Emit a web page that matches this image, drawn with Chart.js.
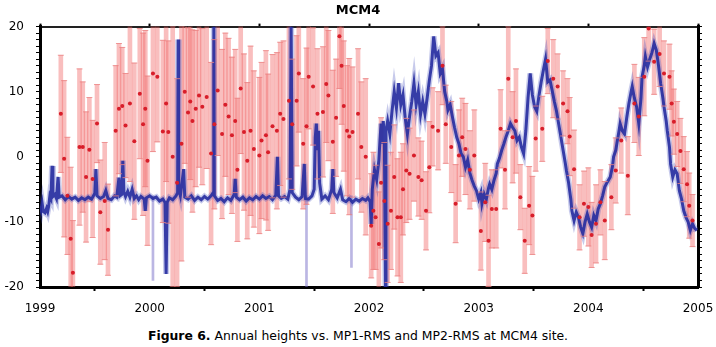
<!DOCTYPE html>
<html>
<head>
<meta charset="utf-8">
<script src="https://cdn.jsdelivr.net/npm/chart.js@4/dist/chart.umd.min.js"></script>
<style>
  body { margin: 0; background: #fff; }
  #wrap { position: relative; width: 716px; height: 347px; }
  #caption {
    position: absolute; left: 0; top: 328px; width: 716px;
    text-align: center; font: 12.4px "DejaVu Sans", sans-serif; color: #000;
  }
</style>
</head>
<body>
<div id="wrap">
  <canvas id="myChart" width="716" height="316"></canvas>
  <div id="caption"><b>Figure 6.</b> Annual heights vs. MP1-RMS and MP2-RMS at MCM4 site.</div>
</div>
<script>
// year ticks
const yearTicks = [1999, 2000, 2001, 2002, 2003, 2004, 2005];
const heightTicks = [-20, -10, 0, 10, 20];

// red: annual height estimates with error bars (time, value, half error)
const redT = [
  1999.19, 1999.22, 1999.25, 1999.28, 1999.30, 1999.36, 1999.39, 1999.42, 1999.45, 1999.48,
  1999.52, 1999.55, 1999.59, 1999.62, 1999.69, 1999.72, 1999.75, 1999.78, 1999.82, 1999.86,
  1999.91, 1999.94, 1999.96, 1999.98, 2000.03, 2000.07, 2000.12, 2000.15, 2000.17, 2000.21,
  2000.25, 2000.29, 2000.32, 2000.35, 2000.37, 2000.39, 2000.42, 2000.45, 2000.48, 2000.52,
  2000.56, 2000.59, 2000.62, 2000.66, 2000.69, 2000.72, 2000.75, 2000.78, 2000.80, 2000.83,
  2000.86, 2000.89, 2000.92, 2000.95, 2001.00, 2001.02, 2001.06, 2001.08, 2001.12, 2001.16,
  2001.19, 2001.22, 2001.27, 2001.30, 2001.34, 2001.36, 2001.40, 2001.43, 2001.45, 2001.49,
  2001.53, 2001.58, 2001.61, 2001.63, 2001.67, 2001.70, 2001.73, 2001.75, 2001.77, 2001.80,
  2001.82, 2001.85, 2001.90, 2001.93, 2001.97, 2002.02, 2002.04, 2002.06, 2002.09, 2002.11,
  2002.14, 2002.17, 2002.20, 2002.23, 2002.26, 2002.29, 2002.31, 2002.34, 2002.37, 2002.41,
  2002.45, 2002.48, 2002.52, 2002.55, 2002.58, 2002.63, 2002.67, 2002.70, 2002.75, 2002.79,
  2002.82, 2002.85, 2002.88, 2002.92, 2002.96, 2003.02, 2003.06, 2003.09, 2003.12, 2003.16,
  2003.20, 2003.24, 2003.27, 2003.31, 2003.34, 2003.38, 2003.42, 2003.46, 2003.49, 2003.52,
  2003.58, 2003.63, 2003.68, 2003.72, 2003.77, 2003.81, 2003.83, 2003.87, 2003.92, 2003.96,
  2004.00, 2004.03, 2004.07, 2004.11, 2004.15, 2004.21, 2004.25, 2004.30, 2004.36, 2004.42,
  2004.46, 2004.51, 2004.55, 2004.60, 2004.65, 2004.69, 2004.74, 2004.76, 2004.78, 2004.81,
  2004.84, 2004.87, 2004.90, 2004.92, 2004.95
];
const redV = [
  6.6, -0.3, -6, -12.6, -17.8, 1.5, 1.5, -3.1, 1.1, -3.4,
  5.1, -8.5, -6.8, -11.2, 4, 7.4, 7.8, 4.8, 8.2, 2.4,
  9.7, 5, 7.4, -0.6, 12.8, 12.3, 3.9, 8.2, 3.8, 0,
  -4, 2, 10, 6.8, 8.5, 5.5, 7.4, 9.4, 7.7, 9.2,
  0.5, 5, 10.2, 3.5, 8, 6.2, 3.3, 5.5, -2, 10.5,
  3.8, -0.6, 4, 1.2, 0.2, 2.5, 3.3, 0.7, 4.7, 4,
  6.6, 5.8, 8.6, 5, 8.6, 12.8, 2, 4.7, 12.3, 10.8,
  6.6, 6.9, 11.2, 9.4, 2.3, 6, 18.5, 14, 7.8, 4,
  3.1, 3.8, 6.6, 1.5, 0, -10.6, -8.3, -9.3, -13.4, -4,
  -6.8, -10.3, -8.3, -3.1, -9.3, -9.3, -5, -2.1, -2.6, 0.2,
  -3.1, -3.6, -8.3, -1.6, 4.6, 4, 14, 5, 1.5, -7.2,
  0.2, 3, 1.2, -2, 0.2, -11.4, -7, -12.9, -8, -8,
  4.3, -2, 12, 3, 5.5, -6.2, -12.9, -7.5, -9, 2.8,
  4.3, 14.7, 12, 10.8, 8.2, 7, 3.1, -1.9, -9.3, -7.2,
  -7.7, -12, -10.3, -7, -9.8, -6.2, -2.1, 2.5, -2.9, 8.2,
  6.2, 12.3, 19.7, 14.6, 15.8, 12.8, 12.3, 8.2, 5.4, 3.5,
  0.9, -1.9, -4.2, -7.5, -9.8
];
const redE = [
  9, 12, 9, 11, 8, 12, 10, 10, 8, 9,
  6, 8, 9, 7, 10, 10, 9, 8, 12, 12,
  10, 14, 12, 13, 12, 10, 14, 12, 14, 20,
  16, 18, 11, 13, 12, 14, 12, 11, 12, 11,
  14, 13, 10, 13, 11, 12, 12, 11, 11, 10,
  12, 12, 13, 12, 12, 12, 13, 12, 11, 12,
  11, 12, 12, 10, 10, 9, 10, 12, 8, 9,
  10, 10, 9, 10, 11, 9, 8, 9, 10, 10,
  12, 10, 10, 10, 12, 8, 9, 8, 8, 10,
  9, 9, 9, 8, 9, 10, 7, 8, 7, 7,
  6, 6, 6, 7, 6, 6, 6, 6, 7, 6,
  7, 6, 7, 6, 7, 6, 6, 7, 6, 6,
  6, 6, 8, 7, 8, 5, 5, 6, 6, 5,
  5, 5, 6, 5, 5, 5, 6, 6, 5, 5,
  6, 5, 6, 5, 6, 5, 5, 5, 6, 6,
  6, 6, 5, 5, 5, 5, 5, 5, 5, 5,
  5, 5, 5, 5, 4
];

// blue: daily height series (time, value)
const blueT = [
  1999.000, 1999.010, 1999.020, 1999.030, 1999.045, 1999.060, 1999.070, 1999.080, 1999.090, 1999.100,
  1999.110, 1999.118, 1999.135, 1999.150, 1999.165, 1999.175, 1999.20, 1999.23, 1999.26, 1999.29,
  1999.32, 1999.35, 1999.38, 1999.41, 1999.44, 1999.47, 1999.50, 1999.51, 1999.52, 1999.55,
  1999.58, 1999.60, 1999.62, 1999.65, 1999.68, 1999.70, 1999.72, 1999.73, 1999.745, 1999.755,
  1999.765, 1999.78, 1999.80, 1999.82, 1999.84, 1999.86, 1999.88, 1999.90, 1999.92, 1999.95,
  1999.96, 1999.97, 2000.00, 2000.03, 2000.06, 2000.09, 2000.12, 2000.14, 2000.15, 2000.16,
  2000.18, 2000.21, 2000.24, 2000.255, 2000.26, 2000.265, 2000.28, 2000.31, 2000.32, 2000.35,
  2000.38, 2000.41, 2000.44, 2000.47, 2000.50, 2000.53, 2000.56, 2000.58, 2000.585, 2000.59,
  2000.62, 2000.65, 2000.68, 2000.71, 2000.74, 2000.77, 2000.78, 2000.79, 2000.82, 2000.85,
  2000.88, 2000.91, 2000.94, 2000.97, 2001.00, 2001.03, 2001.06, 2001.09, 2001.12, 2001.15,
  2001.165, 2001.175, 2001.20, 2001.23, 2001.26, 2001.28, 2001.29, 2001.30, 2001.33, 2001.36,
  2001.39, 2001.41, 2001.42, 2001.45, 2001.48, 2001.50, 2001.51, 2001.52, 2001.53, 2001.54,
  2001.55, 2001.57, 2001.60, 2001.63, 2001.66, 2001.67, 2001.68, 2001.71, 2001.74, 2001.76,
  2001.79, 2001.82, 2001.85, 2001.88, 2001.91, 2001.94, 2001.97, 2001.99, 2002.01, 2002.02,
  2002.03, 2002.05, 2002.07, 2002.09, 2002.10, 2002.11, 2002.12, 2002.13, 2002.14, 2002.15,
  2002.155, 2002.17, 2002.19, 2002.21, 2002.23, 2002.25, 2002.27, 2002.29, 2002.31, 2002.33,
  2002.35, 2002.37, 2002.39, 2002.41, 2002.43, 2002.45, 2002.47, 2002.49, 2002.51, 2002.53,
  2002.55, 2002.57, 2002.59, 2002.61, 2002.63, 2002.65, 2002.67, 2002.69, 2002.71, 2002.72,
  2002.74, 2002.76, 2002.78, 2002.80, 2002.82, 2002.84, 2002.86, 2002.88, 2002.90, 2002.92,
  2002.94, 2002.96, 2002.98, 2003.00, 2003.02, 2003.03, 2003.05, 2003.07, 2003.09, 2003.10,
  2003.12, 2003.14, 2003.16, 2003.17, 2003.19, 2003.21, 2003.23, 2003.25, 2003.27, 2003.29,
  2003.31, 2003.33, 2003.35, 2003.37, 2003.39, 2003.41, 2003.43, 2003.45, 2003.47, 2003.49,
  2003.51, 2003.53, 2003.55, 2003.57, 2003.59, 2003.61, 2003.63, 2003.65, 2003.67, 2003.69,
  2003.71, 2003.73, 2003.74, 2003.76, 2003.77, 2003.79, 2003.80, 2003.82, 2003.84, 2003.85,
  2003.87, 2003.89, 2003.91, 2003.93, 2003.95, 2003.97, 2003.99, 2004.01, 2004.03, 2004.05,
  2004.07, 2004.09, 2004.11, 2004.13, 2004.15, 2004.17, 2004.20, 2004.22, 2004.23, 2004.25,
  2004.26, 2004.28, 2004.29, 2004.31, 2004.33, 2004.35, 2004.37, 2004.39, 2004.40, 2004.42,
  2004.44, 2004.46, 2004.48, 2004.49, 2004.51, 2004.52, 2004.54, 2004.56, 2004.58, 2004.60,
  2004.62, 2004.64, 2004.66, 2004.68, 2004.69, 2004.71, 2004.72, 2004.74, 2004.75, 2004.77,
  2004.79, 2004.81, 2004.83, 2004.85, 2004.87, 2004.89, 2004.91, 2004.93, 2004.95, 2004.97,
  2004.99
];
const blueV = [
  -7.6, -8.2, -7.2, -8.4, -8.6, -7.9, -8.4, -7.5, -6.0, -6.4,
  -1.4, -6.1, -5.8, -6.4, -3.1, -6.2, -6.0, -6.6, -6.1, -6.5,
  -6.2, -6.7, -6.3, -6.6, -6.2, -6.5, -5.6, -1.9, -6.0, -6.4,
  -6.1, -5.2, -6.4, -6.6, -6.0, -6.2, -3.2, -6.0, -5.8, -0.6,
  -5.4, -6.1, -5.3, -6.2, -5.0, -6.4, -6.0, -6.6, -6.1, -6.5,
  -8.3, -6.3, -6.0, -6.4, -6.2, -6.8, -6.5, -7.0, -18.0, -7.0,
  -6.3, -6.6, -6.0, -5.5, 18.0, -5.0, -6.0, -1.9, -6.2, -6.5,
  -6.0, -6.7, -6.2, -6.6, -6.1, -6.5, -6.0, -5.5, 20, -6.0,
  -6.7, -6.4, -6.9, -6.3, -6.7, -5.8, -3.4, -6.2, -6.6, -6.2,
  -6.8, -6.3, -6.6, -6.1, -6.5, -6.0, -6.4, -6.1, -6.6, -5.9,
  0.0, -6.0, -6.4, -6.1, -6.5, -5.0, 20, -5.5, -6.2, -6.6,
  -6.1, -1.1, -6.4, -6.5, -6.0, -5.0, 3.0, 5.1, 1.0, 4.0,
  -4.0, -6.5, -6.0, -6.6, -5.0, -1.9, -5.5, -6.3, -5.0, -6.6,
  -6.9, -6.4, -7.0, -6.5, -6.8, -6.4, -6.7, -6.3, -6.9, -10.3,
  -5.0, -2.0, -3.5, -0.5, 2.5, 5.1, 2.0, 5.5, 3.0, -20,
  4.0, 5.5, 3.5, 7.0, 10.0, 7.5, 11.3, 8.0, 9.5, 6.0,
  3.5, 6.2, 8.5, 11.3, 8.0, 10.0, 6.5, 8.5, 6.6, 9.0,
  11.7, 14.0, 18.5, 15.5, 16.0, 12.8, 13.5, 10.0, 8.5, 7.2,
  8.0, 6.2, 4.5, 3.0, 2.0, 0.5, 0.0, -1.6, -0.5, -2.5,
  -3.6, -4.5, -5.2, -6.5, -5.5, -7.2, -5.7, -6.5, -4.8, -4.2,
  -5.0, -3.6, -2.5, -1.1, -0.2, 1.0, 2.0, 3.1, 4.0, 5.1,
  4.5, 4.0, 2.5, 3.0, 1.5, 0.5, 4.0, 9.0, 12.8, 9.5,
  7.7, 7.0, 9.4, 11.5, 13.3, 15.0, 11.5, 11.8, 10.2, 8.5,
  7.0, 5.0, 4.0, 2.0, 1.0, -1.0, -2.1, -4.0, -6.5, -8.3,
  -9.8, -8.5, -9.3, -10.8, -11.8, -10.0, -8.8, -10.0, -10.8, -9.0,
  -9.8, -8.0, -7.2, -6.0, -4.6, -4.0, -3.1, -1.5, 0.0, 1.0,
  2.0, 4.0, 5.1, 4.0, 3.5, 6.0, 8.2, 10.0, 10.8, 9.0,
  7.7, 5.1, 9.0, 12.3, 14.0, 15.4, 13.8, 15.0, 16.0, 17.4,
  16.4, 14.0, 11.2, 9.0, 7.7, 5.5, 4.0, 1.5, -1.1, -3.1,
  -2.0, -2.6, -5.2, -6.5, -8.3, -9.3, -10.0, -11.3, -10.3, -11.0,
  -11.3
];

// faint single-day outliers (time, low, high)
const faintT = [2000.03, 2001.43, 2001.84];
const faintLo = [-19, -20, -17];
const faintHi = [-6, -6, -6];

const errBars = redT.map((t, i) => ({ x: t, y: [redV[i] - redE[i], redV[i] + redE[i]] }));
const capPts = redT.flatMap((t, i) => [{ x: t, y: redV[i] - redE[i] }, { x: t, y: redV[i] + redE[i] }]);
const dots = redT.map((t, i) => ({ x: t, y: redV[i] }));
const blueLine = blueT.map((t, i) => ({ x: t, y: blueV[i] }));
const faintBars = faintT.map((t, i) => ({ x: t, y: [faintLo[i], faintHi[i]] }));

Chart.defaults.font.family = '"DejaVu Sans", Verdana, sans-serif';
Chart.defaults.color = '#000';

// keep the plot edges where the axes sit, no extra room for end labels
const noPad = s => { s.paddingLeft = 0; s.paddingRight = 0; };

const ctx = document.getElementById('myChart').getContext('2d');
new Chart(ctx, {
  type: 'scatter',
  data: {
    datasets: [
      { type: 'scatter', data: dots, pointRadius: 2, pointBackgroundColor: '#d81e2a',
        pointBorderWidth: 0, order: 0, clip: 0 },
      { type: 'scatter', data: capPts, pointStyle: 'line', pointRadius: 3,
        pointBorderColor: 'rgba(235,130,130,0.8)', pointBorderWidth: 1, order: 1, clip: 0 },
      { type: 'line', data: blueLine, borderColor: 'rgba(38,44,160,0.9)', borderWidth: 3,
        pointRadius: 0, tension: 0, order: 2, clip: 0 },
      // soft halo around the daily series
      { type: 'line', data: blueLine, borderColor: 'rgba(70,80,190,0.3)', borderWidth: 6,
        pointRadius: 0, tension: 0, order: 3, clip: 0 },
      { type: 'bar', data: faintBars, backgroundColor: 'rgba(120,110,200,0.5)',
        barThickness: 2, grouped: false, order: 4, clip: 0 },
      { type: 'bar', data: errBars, backgroundColor: 'rgba(240,100,100,0.42)',
        barThickness: 4, grouped: false, order: 5, clip: 0 }
    ]
  },
  options: {
    responsive: false,
    animation: false,
    devicePixelRatio: 1,
    layout: { padding: 0 },
    plugins: {
      legend: { display: false },
      tooltip: { enabled: false },
      title: { display: true, text: 'MCM4', font: { size: 13, weight: 'bold' },
               padding: { top: 3, bottom: 3 }, color: '#000' }
    },
    scales: {
      x: {
        type: 'linear', position: 'bottom', min: 1999, max: 2005, offset: false,
        afterBuildTicks: s => { s.ticks = yearTicks.map(v => ({ value: v })); },
        ticks: { callback: v => String(v), font: { size: 12 }, padding: 11, maxRotation: 0 },
        grid: { drawOnChartArea: false, tickLength: 4, tickColor: '#000', tickWidth: 2 },
        border: { width: 3, color: '#000' },
        afterFit: s => { s.height = 29; noPad(s); }
      },
      xTop: {
        type: 'linear', position: 'top', min: 1999, max: 2005, offset: false,
        afterBuildTicks: s => { s.ticks = yearTicks.map(v => ({ value: v })); },
        ticks: { display: false },
        grid: { drawOnChartArea: false, tickLength: 3, tickColor: '#000', tickWidth: 2 },
        border: { width: 2, color: '#222' },
        afterFit: s => { s.height = 5; noPad(s); }
      },
      y: {
        position: 'left', min: -20, max: 20,
        ticks: { stepSize: 1, autoSkip: false, font: { size: 12 }, padding: 12,
                 callback: v => heightTicks.includes(v) ? String(v) : '' },
        grid: { drawOnChartArea: false, tickLength: 4, tickColor: '#000' },
        border: { width: 3, color: '#000' },
        afterFit: s => { s.width = 40; }
      },
      yRight: {
        position: 'right', min: -20, max: 20,
        ticks: { stepSize: 1, autoSkip: false, display: false },
        grid: { drawOnChartArea: false, tickLength: 4, tickColor: '#000' },
        border: { width: 3, color: '#000' },
        afterFit: s => { s.width = 18; }
      }
    }
  }
});
</script>
</body>
</html>
